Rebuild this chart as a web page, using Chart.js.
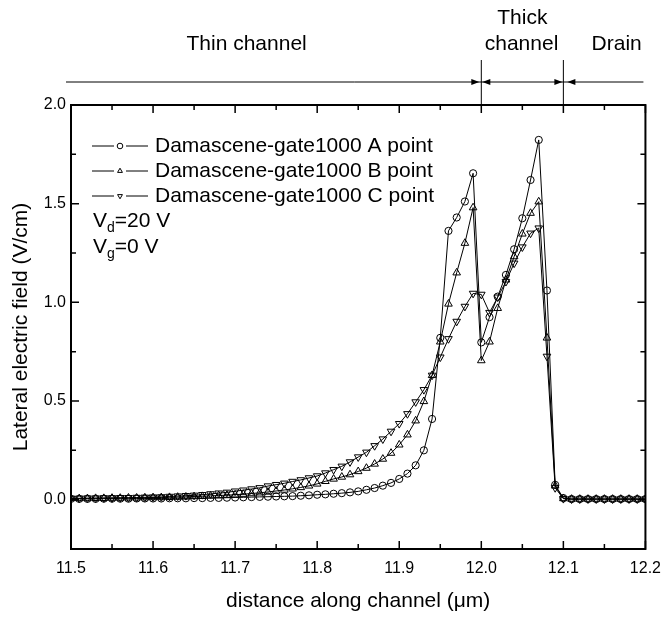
<!DOCTYPE html>
<html>
<head>
<meta charset="utf-8">
<title>Lateral electric field along channel</title>
<script src="https://cdn.jsdelivr.net/npm/chart.js@4.4.0/dist/chart.umd.min.js"></script>
<style>
  html, body { margin: 0; padding: 0; background: #fff; }
  #fieldChart { display: block; }
</style>
</head>
<body>
<canvas id="fieldChart" width="671" height="617"></canvas>
<script>
// distance along channel (um)
var distance = [
  11.50, 11.51, 11.52, 11.53, 11.54, 11.55, 11.56, 11.57, 11.58, 11.59,
  11.60, 11.61, 11.62, 11.63, 11.64, 11.65, 11.66, 11.67, 11.68, 11.69,
  11.70, 11.71, 11.72, 11.73, 11.74, 11.75, 11.76, 11.77, 11.78, 11.79,
  11.80, 11.81, 11.82, 11.83, 11.84, 11.85, 11.86, 11.87, 11.88, 11.89,
  11.90, 11.91, 11.92, 11.93, 11.94, 11.95, 11.96, 11.97, 11.98, 11.99,
  12.00, 12.01, 12.02, 12.03, 12.04, 12.05, 12.06, 12.07, 12.08, 12.09,
  12.10, 12.11, 12.12, 12.13, 12.14, 12.15, 12.16, 12.17, 12.18, 12.19,
  12.20
];

// lateral electric field (V/cm)
var pointA = [
  0.004, 0.004, 0.004, 0.004, 0.005, 0.005, 0.005, 0.005, 0.006, 0.006,
  0.006, 0.006, 0.007, 0.007, 0.007, 0.008, 0.008, 0.009, 0.009, 0.010,
  0.011, 0.012, 0.013, 0.014, 0.015, 0.016, 0.017, 0.018, 0.020, 0.022,
  0.025, 0.027, 0.030, 0.033, 0.037, 0.042, 0.050, 0.059, 0.071, 0.085,
  0.105, 0.132, 0.174, 0.250, 0.409, 0.820, 1.362, 1.430, 1.511, 1.654,
  0.797, 0.925, 1.029, 1.139, 1.269, 1.426, 1.620, 1.823, 1.060, 0.075,
  0.008, 0.003, 0.003, 0.003, 0.003, 0.003, 0.003, 0.003, 0.003, 0.003,
  0.003
];
var pointB = [
  0.006, 0.006, 0.006, 0.007, 0.007, 0.008, 0.008, 0.009, 0.009, 0.010,
  0.011, 0.011, 0.012, 0.013, 0.014, 0.016, 0.017, 0.019, 0.021, 0.023,
  0.025, 0.028, 0.031, 0.035, 0.039, 0.044, 0.049, 0.055, 0.062, 0.070,
  0.080, 0.093, 0.105, 0.115, 0.127, 0.143, 0.160, 0.181, 0.206, 0.236,
  0.278, 0.329, 0.400, 0.498, 0.630, 0.800, 0.992, 1.150, 1.300, 1.480,
  0.705, 0.800, 0.970, 1.114, 1.232, 1.347, 1.452, 1.510, 0.820, 0.070,
  0.006, 0.003, 0.003, 0.003, 0.003, 0.003, 0.003, 0.003, 0.003, 0.003,
  0.003
];
var pointC = [
  0.007, 0.007, 0.008, 0.008, 0.009, 0.009, 0.010, 0.010, 0.011, 0.012,
  0.013, 0.014, 0.016, 0.018, 0.020, 0.022, 0.025, 0.029, 0.033, 0.037,
  0.043, 0.048, 0.054, 0.060, 0.069, 0.076, 0.083, 0.092, 0.100, 0.110,
  0.120, 0.135, 0.152, 0.169, 0.191, 0.216, 0.240, 0.273, 0.307, 0.346,
  0.385, 0.435, 0.495, 0.557, 0.630, 0.722, 0.815, 0.903, 0.979, 1.045,
  1.040, 0.948, 1.026, 1.105, 1.198, 1.280, 1.350, 1.376, 0.726, 0.060,
  0.005, 0.003, 0.003, 0.003, 0.003, 0.003, 0.003, 0.003, 0.003, 0.003,
  0.003
];

var seriesNames = [
  'Damascene-gate1000 A point',
  'Damascene-gate1000 B point',
  'Damascene-gate1000 C point'
];
var xTickValues = [11.5, 11.6, 11.7, 11.8, 11.9, 12.0, 12.1, 12.2];
var yTickValues = [0.0, 0.5, 1.0, 1.5, 2.0];
// region boundaries drawn above the plot
var regionEdges = [12.0, 12.1];

var FONT = '"Liberation Sans", Arial, Helvetica, sans-serif';

function toPoints(values) {
  return distance.map(function(x, i) {
    return { x: x, y: values[i] };
  });
}

var markerStyles = [
  { pointStyle: 'circle', rotation: 0, radius: 3.6 },
  { pointStyle: 'triangle', rotation: 0, radius: 4.4 },
  { pointStyle: 'triangle', rotation: 180, radius: 4.4 }
];

function makeDataset(label, values, marker) {
  return {
    label: label,
    data: toPoints(values),
    borderColor: '#000',
    borderWidth: 1,
    tension: 0,
    pointStyle: marker.pointStyle,
    pointRotation: marker.rotation,
    pointRadius: marker.radius,
    pointBorderWidth: 1,
    pointBorderColor: '#000',
    pointBackgroundColor: 'rgba(255,255,255,0)'
  };
}

// box with inward ticks on all four sides
var frameTicks = {
  id: 'frameTicks',
  afterDatasetsDraw: function(chart) {
    var ctx = chart.ctx;
    var area = chart.chartArea;
    var xs = chart.scales.x;
    var ys = chart.scales.y;
    ctx.save();
    ctx.strokeStyle = '#000';
    ctx.lineWidth = 2;
    ctx.strokeRect(area.left, area.top, area.right - area.left, area.bottom - area.top);

    ctx.lineWidth = 1.5;
    ctx.beginPath();
    for (var i = 0; i <= 14; i++) {
      var px = xs.getPixelForValue(11.5 + i * 0.05);
      var len = (i % 2 === 0) ? 8 : 5;
      ctx.moveTo(px, area.bottom);
      ctx.lineTo(px, area.bottom - len);
      ctx.moveTo(px, area.top);
      ctx.lineTo(px, area.top + len);
    }
    for (var j = 0; j <= 9; j++) {
      var v = -0.25 + j * 0.25;
      var py = ys.getPixelForValue(v);
      var ylen = (j % 2 === 1) ? 8 : 5;
      ctx.moveTo(area.left, py);
      ctx.lineTo(area.left + ylen, py);
      ctx.moveTo(area.right, py);
      ctx.lineTo(area.right - ylen, py);
    }
    ctx.stroke();
    ctx.restore();
  }
};

// legend and the Vd / Vg notes inside the plot
var legendNotes = {
  id: 'legendNotes',
  afterDraw: function(chart) {
    var ctx = chart.ctx;
    var rowY = [146, 171, 196];
    ctx.save();
    ctx.strokeStyle = '#000';
    ctx.fillStyle = '#000';
    ctx.lineWidth = 1;
    ctx.font = '21px ' + FONT;
    ctx.textBaseline = 'middle';
    ctx.textAlign = 'left';
    for (var i = 0; i < seriesNames.length; i++) {
      var y = rowY[i];
      ctx.beginPath();
      ctx.moveTo(92, y);
      ctx.lineTo(114, y);
      ctx.moveTo(126, y);
      ctx.lineTo(148, y);
      ctx.stroke();
      ctx.fillStyle = 'rgba(255,255,255,0)';
      Chart.helpers.drawPoint(ctx, {
        pointStyle: markerStyles[i].pointStyle,
        rotation: markerStyles[i].rotation,
        radius: 2.8,
        borderWidth: 1
      }, 120, y);
      ctx.fillStyle = '#000';
      ctx.fillText(seriesNames[i], 155, y);
    }

    // V_d = 20 V, V_g = 0 V
    var notes = [['d', '=20 V', 221], ['g', '=0 V', 247]];
    notes.forEach(function(n) {
      ctx.font = '21px ' + FONT;
      ctx.fillText('V', 93, n[2]);
      var w = ctx.measureText('V').width;
      ctx.font = '14px ' + FONT;
      ctx.fillText(n[0], 93 + w, n[2] + 7);
      var ws = ctx.measureText(n[0]).width;
      ctx.font = '21px ' + FONT;
      ctx.fillText(n[1], 93 + w + ws, n[2]);
    });
    ctx.restore();
  }
};

// Thin channel / Thick channel / Drain bar above the plot
var regionBar = {
  id: 'regionBar',
  afterDraw: function(chart) {
    var ctx = chart.ctx;
    var area = chart.chartArea;
    var xs = chart.scales.x;
    var barY = 82;
    var e0 = xs.getPixelForValue(regionEdges[0]);
    var e1 = xs.getPixelForValue(regionEdges[1]);
    ctx.save();
    ctx.strokeStyle = '#000';
    ctx.fillStyle = '#000';
    ctx.lineWidth = 1;

    ctx.beginPath();
    ctx.moveTo(area.left - 5, barY);
    ctx.lineTo(area.right - 2, barY);
    ctx.moveTo(e0, 60);
    ctx.lineTo(e0, area.top);
    ctx.moveTo(e1, 60);
    ctx.lineTo(e1, area.top);
    ctx.stroke();

    function head(tipX, dir) {
      ctx.beginPath();
      ctx.moveTo(tipX, barY);
      ctx.lineTo(tipX - dir * 8, barY - 3);
      ctx.lineTo(tipX - dir * 8, barY + 3);
      ctx.closePath();
      ctx.fill();
    }
    head(e0 - 2, 1);
    head(e0 + 1, -1);
    head(e1 - 1, 1);
    head(e1 + 4, -1);

    ctx.font = '21px ' + FONT;
    ctx.textAlign = 'center';
    ctx.textBaseline = 'middle';
    ctx.fillText('Thin channel', xs.getPixelForValue(11.714), 44);
    ctx.fillText('Thick', xs.getPixelForValue(12.05), 18);
    ctx.fillText('channel', xs.getPixelForValue(12.049), 44);
    ctx.fillText('Drain', xs.getPixelForValue(12.165), 44);
    ctx.restore();
  }
};

var ctx = document.getElementById('fieldChart').getContext('2d');
new Chart(ctx, {
  type: 'line',
  data: {
    datasets: [
      makeDataset(seriesNames[0], pointA, markerStyles[0]),
      makeDataset(seriesNames[1], pointB, markerStyles[1]),
      makeDataset(seriesNames[2], pointC, markerStyles[2])
    ]
  },
  options: {
    responsive: false,
    animation: false,
    devicePixelRatio: 1,
    layout: { padding: { top: 105, right: 19, left: 0, bottom: 0 } },
    plugins: {
      legend: { display: false },
      tooltip: { enabled: false }
    },
    scales: {
      x: {
        type: 'linear',
        min: 11.5,
        max: 12.2,
        grid: { display: false, drawTicks: false },
        border: { display: false },
        afterBuildTicks: function(scale) {
          scale.ticks = xTickValues.map(function(v) { return { value: v }; });
        },
        afterFit: function(scale) { scale.height = 68; },
        ticks: {
          padding: 10,
          color: '#000',
          font: { family: FONT, size: 16 },
          maxRotation: 0,
          callback: function(v) { return Number(v).toFixed(1); }
        },
        title: {
          display: true,
          text: 'distance along channel (\u03bcm)',
          color: '#000',
          font: { family: FONT, size: 21 },
          padding: { top: 0, bottom: 3 }
        }
      },
      y: {
        min: -0.25,
        max: 2.0,
        grid: { display: false, drawTicks: false },
        border: { display: false },
        afterBuildTicks: function(scale) {
          scale.ticks = yTickValues.map(function(v) { return { value: v }; });
        },
        afterFit: function(scale) { scale.width = 71; },
        ticks: {
          padding: 5,
          color: '#000',
          font: { family: FONT, size: 16 },
          callback: function(v) { return Number(v).toFixed(1); }
        },
        title: {
          display: true,
          text: 'Lateral electric field (V/cm)',
          color: '#000',
          font: { family: FONT, size: 21 },
          padding: { top: 9, bottom: 0 }
        }
      }
    }
  },
  plugins: [frameTicks, legendNotes, regionBar]
});
</script>
</body>
</html>
